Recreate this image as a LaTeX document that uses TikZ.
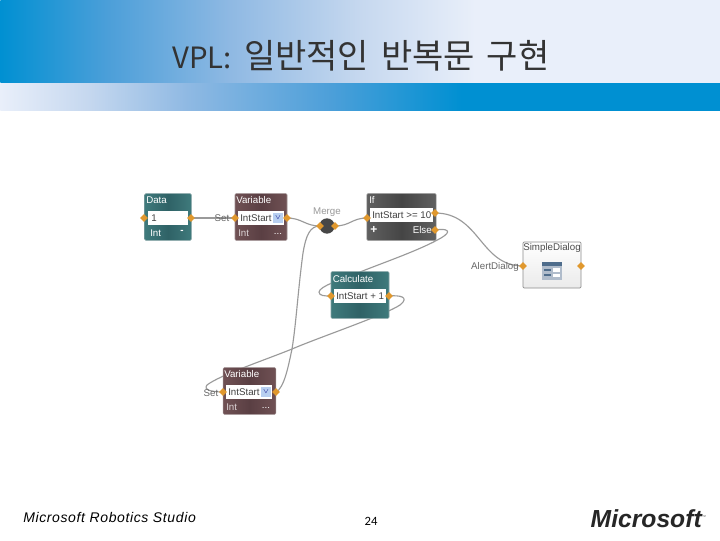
\documentclass[tikz,border=0pt]{standalone}
\usepackage{fontspec}
\setmainfont{Liberation Sans}
\newfontfamily\cjkfont{Noto Sans CJK KR}
\newfontfamily\narrowfont{Carlito}
\newfontfamily\footfont[LetterSpace=4.5]{Liberation Sans}
\usetikzlibrary{shapes.geometric,backgrounds}
\definecolor{bannerA}{HTML}{0090D2}
\definecolor{bannerB}{HTML}{4C9FD9}
\definecolor{bannerC}{HTML}{8FB9E3}
\definecolor{bannerD}{HTML}{C6D8EF}
\definecolor{bannerE}{HTML}{E9EFFA}
\definecolor{tealA}{HTML}{3F7A7C}
\definecolor{tealB}{HTML}{2F6266}
\definecolor{plumA}{HTML}{705154}
\definecolor{plumB}{HTML}{5A3F43}
\definecolor{grayA}{HTML}{606060}
\definecolor{grayB}{HTML}{454545}
\definecolor{portc}{HTML}{E0982E}
\definecolor{wirec}{HTML}{9A9A9A}
\definecolor{labelc}{HTML}{666666}
\definecolor{comboc}{HTML}{B8CFF0}
\definecolor{iconc}{HTML}{4F6D8C}
\definecolor{iconb}{HTML}{B0BCCB}
\pgfdeclarehorizontalshading{topband}{100bp}{
 color(0bp)=(bannerA); color(25bp)=(bannerA); color(32.5bp)=(bannerB); color(41bp)=(bannerC);
 color(50bp)=(bannerD); color(58bp)=(bannerE); color(75bp)=(bannerE); color(100bp)=(bannerE)}
\pgfdeclarehorizontalshading{lowband}{100bp}{
 color(0bp)=(bannerE); color(25bp)=(bannerE); color(31bp)=(bannerD); color(38bp)=(bannerC);
 color(48bp)=(bannerB); color(57bp)=(bannerA); color(75bp)=(bannerA); color(100bp)=(bannerA)}
\tikzset{
 lbl/.style={font=\fontsize{7.3}{9}\selectfont,inner sep=0pt},
 title/.style={lbl,text=white,anchor=west},
 block/.style={draw=#1B!60!white,line width=.4pt,rounded corners=.8pt,
   left color=#1A,right color=#1A,middle color=#1B,minimum height=35pt},
 field/.style={fill=white,inner sep=0pt,minimum height=10.5pt},
 fieldtext/.style={lbl,text=black!75,anchor=west},
 port/.style={diamond,fill=portc,inner sep=0pt,minimum size=6pt},
 wire/.style={draw=wirec,line width=.85pt},
 side/.style={lbl,text=labelc},
 combo/.style={fill=comboc,inner sep=0pt,minimum width=8pt,minimum height=7.5pt,text=blue!50!black},
 band/.style={inner sep=0pt,minimum width=540pt,anchor=north west}
}
\begin{document}
\begin{tikzpicture}[x=.75pt,y=-.75pt]
\useasboundingbox (0,0) rectangle (720,540);
\begin{scope}[on background layer]
\fill[white] (0,0) rectangle (720,540);
\end{scope}
% banner
\node[band,minimum height=62pt,shading=topband] (topband) at (0,0) {};
\node[band,minimum height=20.6pt,shading=lowband] (lowband) at (0,83) {};
\node[font=\cjkfont\fontsize{25.5}{28}\selectfont,text=black!80,inner sep=0pt] (titletext) at (361,56) {{\fontsize{22}{28}\selectfont VPL:}\hspace{9pt}일반적인\hspace{9pt}반복문\hspace{9pt}구현};
% blocks
\node[block=teal,minimum width=35pt] (data) at (168,217) {};
\node[title] (dataT) at (146,200) {Data};
\node[field,minimum width=30pt] (dataF) at (168,218) {};
\node[fieldtext] (dataV) at (151,218) {1};
\node[title] (dataI) at (150,233) {Int};
\node[lbl,text=white] (dataM) at (182,232) {\textbf{-}};
\node[block=plum,minimum width=39pt] (var1) at (261,217) {};
\node[title] (var1T) at (236,200) {Variable};
\node[field,minimum width=34.5pt] (var1F) at (261,218) {};
\node[fieldtext] (var1V) at (240,218) {IntStart};
\node[combo] (var1C) at (278,218) {\tiny$\vee$};
\node[title,text=white!75!plumA] (var1I) at (238,233) {Int};
\node[lbl,text=white] (var1M) at (278,234) {...};
\node[block=gray,minimum width=52pt] (ifb) at (401.5,217) {};
\node[title] (ifT) at (369,200) {If};
\node[field,minimum width=47pt] (ifF) at (401.5,215) {};
\node[fieldtext] (ifV) at (372,215) {IntStart >= 10};
\node[title,font=\fontsize{9}{9}\selectfont\bfseries] (ifP) at (370,230) {+};
\node[title,anchor=east] (ifE) at (432,230) {Else};
\node[block=teal,minimum width=43.5pt] (calc) at (360,295) {};
\node[title] (calcT) at (332.5,279) {Calculate};
\node[field,minimum width=39pt] (calcF) at (360,296) {};
\node[fieldtext] (calcV) at (336,296) {IntStart + 1};
\node[block=plum,minimum width=39.5pt] (var2) at (249.5,391) {};
\node[title] (var2T) at (224,374.5) {Variable};
\node[field,minimum width=34.5pt] (var2F) at (249,392) {};
\node[fieldtext] (var2V) at (228,392) {IntStart};
\node[combo] (var2C) at (266,392) {\tiny$\vee$};
\node[title,text=white!75!plumA] (var2I) at (226,407) {Int};
\node[lbl,text=white] (var2M) at (266,408) {...};
\node[draw=black!45,line width=.5pt,rounded corners=.8pt,top color=white,bottom color=black!8,minimum width=43.5pt,minimum height=34.5pt] (dlg) at (552,265) {};
\node[lbl,text=black!70] (dlgT) at (552,248) {SimpleDialog};
\node[fill=iconb,inner sep=0pt,minimum width=15pt,minimum height=13.5pt] (icon) at (552,271) {};
\fill[iconc] (icon.north west) rectangle ([yshift=-3pt]icon.north east);
\fill[white] ([shift={(8.5pt,-5pt)}]icon.north west) rectangle ([shift={(-1.5pt,-7.5pt)}]icon.north east);
\fill[white] ([shift={(8.5pt,-9pt)}]icon.north west) rectangle ([shift={(-1.5pt,-11.5pt)}]icon.north east);
\fill[iconc] ([shift={(1.5pt,-5.5pt)}]icon.north west) rectangle ([shift={(-8.5pt,-7pt)}]icon.north east);
\fill[iconc] ([shift={(1.5pt,-9.5pt)}]icon.north west) rectangle ([shift={(-8.5pt,-11pt)}]icon.north east);
% merge
\node[circle,fill=black!72,inner sep=0pt,minimum size=11.5pt] (merge) at (327,226) {};
\node[side,text=black!40] (mergeT) at (327,212) {Merge};
% side labels
\node[side] (setA) at (222,218) {Set};
\node[side] (setB) at (211,393) {Set};
\node[side] (alert) at (495,267) {AlertDialog};
% ports
\node[port] (pDataOut) at (191,218) {};
\node[port] (pDataIn) at (144,218) {};
\node[port] (pVar1In) at (235,218) {};
\node[port] (pVar1Out) at (287,218) {};
\node[port] (pMergeIn) at (320,226) {};
\node[port] (pMergeOut) at (335,226) {};
\node[port] (pIfIn) at (367,218) {};
\node[port] (pIfOut) at (435,213) {};
\node[port] (pIfElse) at (435,230) {};
\node[port] (pCalcIn) at (331,296) {};
\node[port] (pCalcOut) at (389,296) {};
\node[port] (pVar2In) at (223,392) {};
\node[port] (pVar2Out) at (276,392) {};
\node[port] (pDlgIn) at (523,266) {};
\node[port] (pDlgOut) at (581,266) {};
% connectors
\begin{scope}[on background layer]
\draw[wire] (pDataOut.center) -- (pVar1In.center);
\draw[wire] (pVar1Out.center) .. controls (302,218) and (305,226) .. (pMergeIn.center);
\draw[wire] (pMergeOut.center) .. controls (350,226) and (352,218) .. (pIfIn.center);
\draw[wire] (pIfOut.center) .. controls (480,213) and (480,266) .. (pDlgIn.center);
\draw[wire] (pIfElse.center) .. controls (447,228) and (453,231) .. (441,238) .. controls (420,250) and (385,262) .. (360,272) .. controls (340,280) and (320,286) .. (319,292) .. controls (319,296) and (325,296) .. (pCalcIn.center);
\draw[wire] (pCalcOut.center) .. controls (400,295) and (410,297) .. (400,305) .. controls (385,315) and (320,337) .. (292,349) .. controls (265,360) and (220,375) .. (207,385) .. controls (203,390) and (212,392) .. (pVar2In.center);
\draw[wire] (pVar2Out.center) .. controls (284,388) and (288,368) .. (292,349) .. controls (296,325) and (298,290) .. (303,253) .. controls (306,235) and (310,226) .. (pMergeIn.center);
\end{scope}
% footer
\node[font=\footfont\itshape\fontsize{10.5}{12}\selectfont,inner sep=0pt,anchor=west] (footer) at (23,517.5) {Microsoft Robotics Studio};
\node[font=\narrowfont\fontsize{9.5}{12}\selectfont,inner sep=0pt] (page) at (371,521) {24};
\node[font=\bfseries\itshape\fontsize{18.5}{20}\selectfont,inner sep=0pt,anchor=east,text=black!85] (logo) at (702,519) {Microsoft};
\node[font=\fontsize{3}{3}\selectfont,inner sep=0pt,text=black!70] (tm) at (704,517) {™};
\end{tikzpicture}
\end{document}
